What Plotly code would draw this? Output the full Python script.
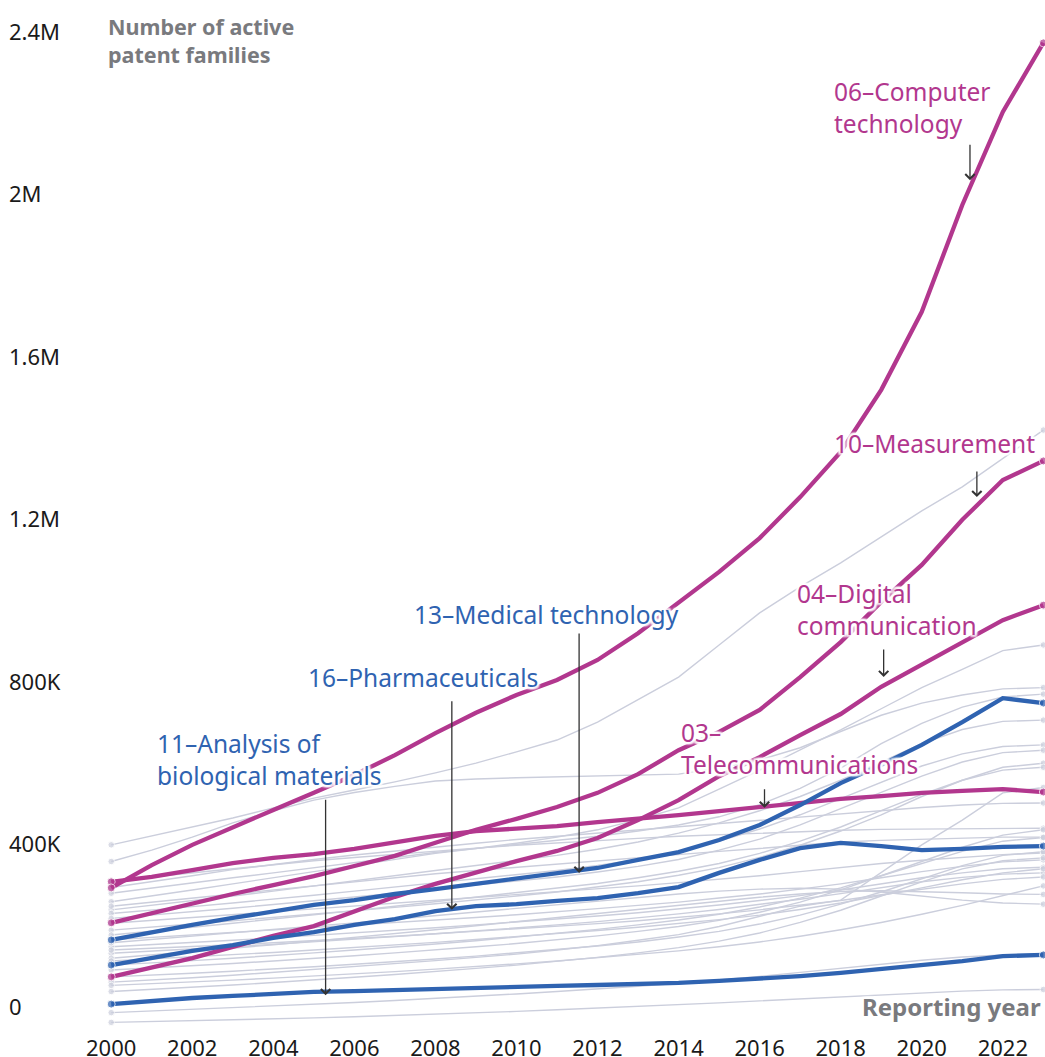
import plotly.graph_objects as go

years = list(range(2000, 2024))

# Highlighted fields (values in thousands of active patent families)
computer_tech = [335, 391, 441, 485, 527, 569, 613, 662, 716, 766, 810, 847, 896, 962, 1036, 1113, 1196, 1297, 1408, 1561, 1753, 2016, 2245, 2415]
measurement = [249, 273, 298, 320, 342, 364, 389, 414, 446, 478, 505, 534, 569, 615, 674, 719, 773, 854, 940, 1039, 1130, 1241, 1339, 1386]
digital_comm = [116, 138, 162, 190, 217, 241, 276, 313, 345, 374, 401, 426, 458, 502, 551, 610, 657, 711, 763, 830, 884, 940, 994, 1031]
telecom = [350, 362, 379, 396, 409, 418, 431, 446, 463, 475, 482, 487, 497, 505, 514, 524, 534, 544, 554, 561, 569, 574, 578, 571]
medical_tech = [207, 226, 244, 261, 276, 293, 305, 320, 332, 345, 357, 372, 384, 404, 423, 453, 490, 539, 593, 638, 687, 743, 802, 790]
pharma = [145, 162, 180, 194, 212, 226, 244, 258, 278, 290, 295, 303, 310, 322, 337, 372, 404, 433, 446, 438, 428, 431, 436, 438]
bio_analysis = [49, 57, 64, 69, 74, 79, 81, 84, 86, 89, 91, 94, 96, 98, 101, 106, 111, 118, 126, 135, 145, 155, 167, 170]

# Other fields (grey)
other_01 = [441, 463, 485, 507, 532, 556, 576, 596, 618, 642, 670, 699, 743, 798, 854, 933, 1012, 1076, 1135, 1199, 1263, 1322, 1393, 1462]
other_02 = [301, 315, 330, 345, 360, 375, 390, 405, 420, 432, 445, 460, 478, 503, 532, 578, 625, 675, 724, 776, 828, 873, 919, 933]
other_03 = [400, 428, 460, 495, 525, 551, 570, 585, 598, 603, 606, 608, 610, 612, 615, 630, 650, 680, 720, 760, 790, 810, 825, 828]
other_04 = [322, 335, 348, 360, 372, 385, 398, 410, 422, 432, 442, 452, 462, 475, 490, 510, 540, 580, 630, 690, 740, 780, 805, 812]
other_05 = [281, 292, 303, 315, 327, 340, 352, 365, 378, 390, 402, 415, 430, 448, 470, 495, 525, 560, 600, 645, 690, 725, 745, 748]
other_06 = [272, 280, 289, 298, 307, 317, 327, 337, 347, 357, 367, 378, 390, 405, 425, 450, 480, 515, 555, 595, 635, 665, 683, 687]
other_07 = [260, 268, 276, 285, 294, 303, 312, 322, 332, 342, 352, 362, 374, 388, 405, 428, 455, 490, 530, 570, 610, 645, 668, 674]
other_08 = [231, 238, 246, 254, 262, 270, 278, 287, 296, 305, 315, 325, 337, 350, 366, 385, 410, 440, 475, 515, 560, 600, 632, 642]
other_09 = [219, 228, 238, 248, 258, 268, 279, 290, 301, 312, 323, 334, 346, 360, 376, 395, 420, 450, 485, 525, 565, 600, 625, 632]
other_10 = [103, 108, 114, 120, 127, 134, 141, 148, 156, 164, 172, 182, 193, 206, 220, 240, 265, 290, 305, 374, 441, 502, 569, 582]
other_11 = [336, 350, 365, 380, 393, 405, 416, 426, 436, 445, 454, 462, 470, 478, 486, 494, 502, 510, 518, 526, 533, 539, 543, 544]
other_12 = [352, 362, 372, 382, 392, 402, 410, 418, 426, 433, 440, 446, 452, 457, 462, 466, 470, 474, 477, 479, 480, 481, 482, 482]
other_13 = [290, 300, 310, 320, 330, 340, 350, 360, 370, 378, 386, 394, 402, 410, 418, 425, 432, 440, 448, 452, 455, 458, 460, 460]
other_14 = [248, 255, 262, 269, 276, 283, 290, 297, 304, 311, 318, 325, 332, 340, 348, 356, 365, 375, 385, 395, 403, 410, 417, 421]
other_15 = [207, 213, 219, 225, 231, 237, 243, 249, 255, 262, 269, 276, 284, 292, 300, 310, 320, 332, 345, 360, 375, 388, 399, 404]
other_16 = [190, 195, 200, 206, 212, 218, 224, 230, 237, 244, 251, 258, 266, 274, 283, 293, 304, 316, 330, 345, 360, 372, 382, 386]
other_17 = [174, 179, 184, 190, 196, 202, 208, 215, 222, 229, 236, 244, 252, 261, 271, 282, 294, 307, 321, 336, 350, 361, 369, 372]
other_18 = [162, 170, 178, 186, 195, 204, 213, 222, 232, 242, 252, 262, 272, 282, 292, 302, 312, 320, 326, 328, 326, 323, 320, 319]
other_19 = [200, 208, 216, 224, 232, 240, 249, 258, 267, 276, 285, 294, 303, 312, 320, 327, 332, 334, 332, 325, 315, 305, 298, 295]
other_20 = [133, 138, 143, 149, 155, 161, 168, 175, 182, 190, 198, 207, 217, 228, 240, 255, 275, 300, 330, 365, 400, 435, 465, 478]
other_21 = [145, 150, 156, 162, 168, 175, 182, 189, 197, 205, 214, 223, 233, 244, 256, 270, 288, 310, 335, 365, 395, 425, 450, 459]
other_22 = [116, 120, 125, 130, 135, 141, 147, 153, 160, 167, 175, 183, 192, 202, 214, 228, 246, 268, 295, 325, 357, 390, 415, 424]
other_23 = [80, 85, 90, 96, 102, 108, 115, 122, 129, 137, 145, 154, 164, 175, 188, 204, 224, 250, 280, 315, 350, 382, 402, 409]
other_24 = [182, 186, 190, 195, 200, 205, 210, 216, 222, 228, 234, 240, 247, 254, 262, 271, 281, 292, 304, 318, 332, 345, 356, 362]
other_25 = [155, 160, 165, 170, 176, 182, 188, 194, 201, 208, 215, 222, 230, 238, 247, 257, 268, 282, 298, 316, 335, 355, 372, 382]
other_26 = [28, 32, 36, 40, 44, 48, 53, 58, 63, 68, 74, 80, 86, 93, 100, 108, 117, 127, 137, 147, 157, 165, 170, 172]
other_27 = [4, 6, 8, 10, 12, 15, 18, 21, 24, 27, 31, 35, 39, 43, 47, 52, 57, 62, 67, 72, 77, 81, 84, 85]
other_28 = [95, 99, 103, 108, 113, 118, 123, 129, 135, 141, 148, 155, 163, 171, 180, 190, 202, 216, 232, 250, 270, 292, 316, 340]

other_fields = [other_01, other_02, other_03, other_04, other_05, other_06, other_07,
                other_08, other_09, other_10, other_11, other_12, other_13, other_14,
                other_15, other_16, other_17, other_18, other_19, other_20, other_21,
                other_22, other_23, other_24, other_25, other_26, other_27, other_28]

x_tick_years = list(range(2000, 2023, 2))
y_tick_values = [0, 400000, 800000, 1200000, 1600000, 2000000, 2400000]
y_tick_labels = ["0", "400K", "800K", "1.2M", "1.6M", "2M", "2.4M"]

MAGENTA = "#b2378e"
BLUE = "#2f63b1"
GREY = "#cbcedc"
FONT = "Noto Sans"

def end_sizes(n, s):
    return [s] + [0] * (n - 2) + [s]

fig = go.Figure()

for vals in other_fields:
    fig.add_trace(go.Scatter(
        x=years, y=[v * 1000 for v in vals], mode="lines+markers",
        line=dict(color=GREY, width=1.4),
        marker=dict(color=GREY, size=end_sizes(len(years), 6.5)),
        hoverinfo="skip", showlegend=False, cliponaxis=False))

highlighted = [
    (telecom, MAGENTA), (digital_comm, MAGENTA), (measurement, MAGENTA), (computer_tech, MAGENTA),
    (bio_analysis, BLUE), (pharma, BLUE), (medical_tech, BLUE),
]
for vals, col in highlighted:
    fig.add_trace(go.Scatter(
        x=years, y=[v * 1000 for v in vals], mode="lines+markers",
        line=dict(color=col, width=4.3),
        marker=dict(color=col, size=end_sizes(len(years), 8)),
        hoverinfo="skip", showlegend=False, cliponaxis=False))

HALO = ("2px 0px 2px white, -2px 0px 2px white, 0px 2px 2px white, 0px -2px 2px white, "
        "2px 2px 2px white, -2px -2px 2px white, 2px -2px 2px white, -2px 2px 2px white")

# Labels: (text, colour, x year, y value, arrow tip year, arrow tip value, arrow length px)
labels = [
    ("06–Computer<br>technology", MAGENTA, 2017.78, 2256000, 2021.19, 2077000, 37),
    ("10–Measurement", MAGENTA, 2017.78, 1428000, 2021.36, 1297000, 27),
    ("04–Digital<br>communication", MAGENTA, 2016.86, 1020000, 2019.06, 854000, 29),
    ("03–<br>Telecommunications", MAGENTA, 2014.02, 677000, 2016.12, 532000, 20),
    ("13–Medical technology", BLUE, 2007.42, 1009000, 2011.545, 372000, 241),
    ("16–Pharmaceuticals", BLUE, 2004.80, 854000, 2008.405, 281000, 210),
    ("11–Analysis of<br>biological materials", BLUE, 2001.09, 650000, 2005.29, 71000, 197),
]

annotations = []
for text, col, lx, ly, ax_, ay_, alen in labels:
    annotations.append(dict(
        x=ax_, y=ay_, xref="x", yref="y", text="", showarrow=True,
        ax=0, ay=-alen, arrowhead=4, arrowsize=1.4, arrowwidth=1.3,
        arrowcolor="#333333", standoff=0))
    annotations.append(dict(
        x=lx, y=ly, xref="x", yref="y", text=text, showarrow=False,
        xanchor="left", yanchor="middle", align="left",
        font=dict(family=FONT, size=24.5, color=col, shadow=HALO)))

annotations.append(dict(
    x=1999.876, y=2422000, xref="x", yref="y",
    text="<b>Number of active<br>patent families</b>", showarrow=False,
    xanchor="left", yanchor="middle", align="left",
    font=dict(family=FONT, size=21.5, color="#797a7e")))
annotations.append(dict(
    x=2023.0, y=44000, xref="x", yref="y",
    text="<b>Reporting year</b>", showarrow=False,
    xanchor="right", yanchor="middle", align="right",
    font=dict(family=FONT, size=24, color="#797a7e", shadow=HALO)))

fig.update_layout(
    width=1045, height=1057,
    margin=dict(l=6, r=0, t=0, b=24),
    paper_bgcolor="white", plot_bgcolor="white",
    font=dict(family=FONT, size=22, color="#1a1a1a"),
    showlegend=False,
    annotations=annotations,
    xaxis=dict(
        range=[1997.404, 2023.041], tickvals=x_tick_years,
        ticktext=[str(y) for y in x_tick_years],
        showgrid=False, zeroline=False, showline=False, ticks="",
        tickfont=dict(family=FONT, size=22, color="#1a1a1a"),
        automargin=False, fixedrange=True),
    yaxis=dict(
        range=[-22150, 2520600], tickvals=y_tick_values, ticktext=y_tick_labels,
        showgrid=False, zeroline=False, showline=False, ticks="",
        ticklabelposition="inside", ticklabelshift=-17, ticklabelstandoff=0,
        tickfont=dict(family=FONT, size=22, color="#1a1a1a"),
        automargin=False, fixedrange=True),
)

fig.write_html("out.html", config={"displayModeBar": False},
               post_script="document.body.style.margin='0';document.body.style.overflow='hidden';")
